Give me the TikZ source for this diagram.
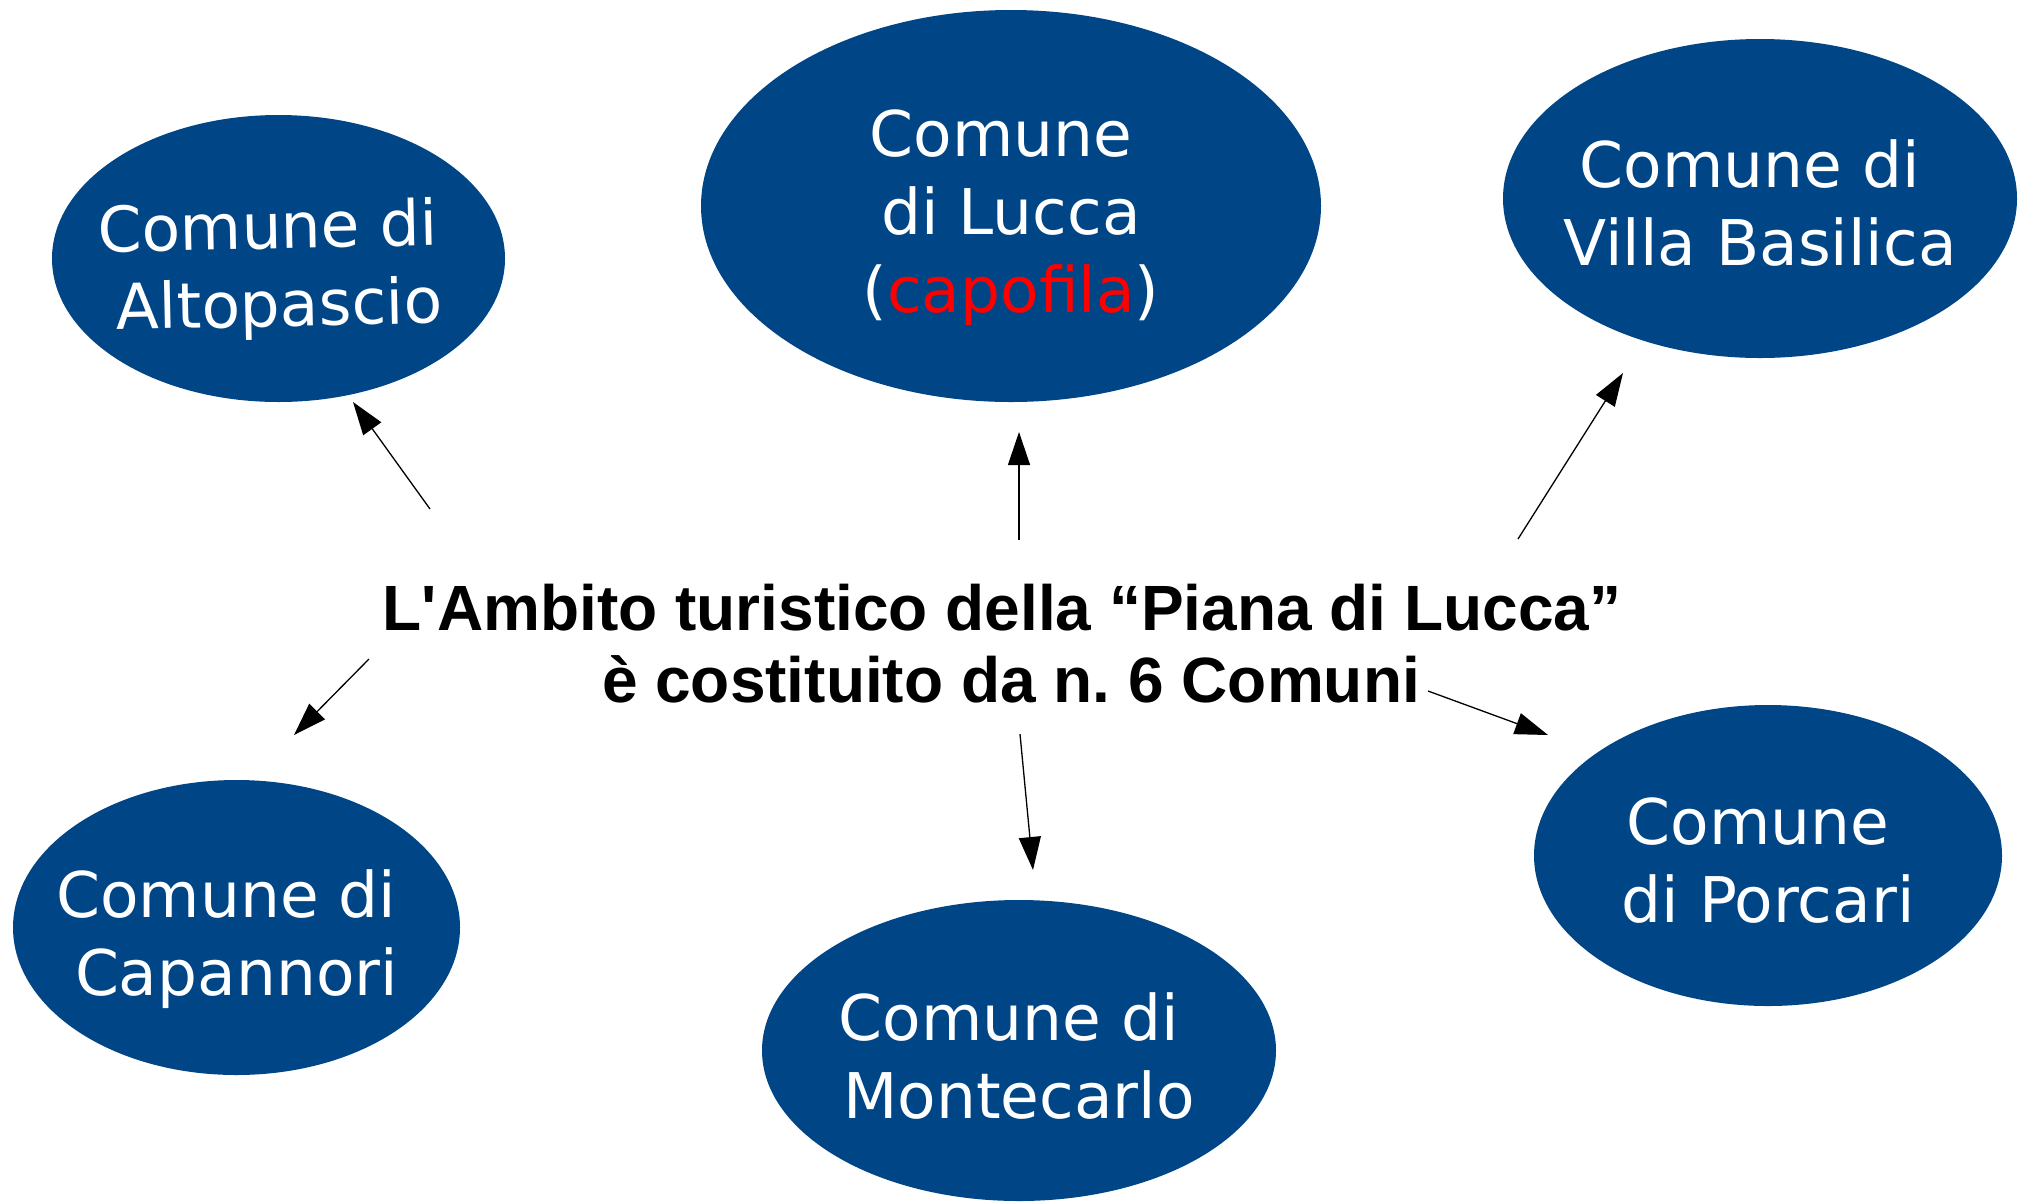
\documentclass[tikz,border=0pt]{standalone}
\usepackage{fontspec}
\setmainfont{DejaVu Sans}
\newfontfamily\titlefont{Liberation Sans}
\usetikzlibrary{shapes.geometric,arrows.meta}
\definecolor{cblue}{HTML}{004586}
\definecolor{cred}{HTML}{FF0000}
\newcommand{\nodesc}[1]{\raisebox{0pt}[\height][0pt]{#1}}
\newcommand{\trsp}{\hspace*{0.318em}}
\frenchspacing
\begin{document}
\begin{tikzpicture}[x=0.5pt,y=-0.5pt,
  comune/.style={ellipse, fill=cblue, draw=none, inner sep=0pt},
  ctext/.style={text=white, align=center, inner sep=0pt, yshift=-2.5pt,
    font=\fontsize{31.5}{39}\selectfont},
  titlestyle/.style={align=center, inner sep=0pt,
    font=\titlefont\bfseries\fontsize{32}{36}\selectfont},
  arr/.style={-{Triangle[length=16.5pt,width=11pt]}, line width=0.65pt}]
\useasboundingbox (0,0) rectangle (2029,1201);

% ellipses
\node[comune, minimum width=226.5pt, minimum height=143.5pt] (alto) at (278.5,258.5) {};
\node[comune, minimum width=310pt, minimum height=196pt] (lucca) at (1011,206) {};
\node[comune, minimum width=257pt, minimum height=159.5pt] (villa) at (1760,198.5) {};
\node[comune, minimum width=223.5pt, minimum height=147.5pt] (capa) at (236.5,927.5) {};
\node[comune, minimum width=257pt, minimum height=150.5pt] (monte) at (1019,1050.5) {};
\node[comune, minimum width=234pt, minimum height=150.5pt] (porc) at (1768,855.5) {};

% texts
\node[ctext, rotate=1.2] (altot) at (alto) {Comune di\trsp\\\nodesc{Altopascio}};
\node[ctext] (luccat) at (lucca) {Comune\trsp\\di Lucca\\\nodesc{(\textcolor{cred}{capofila})}};
\node[ctext] (villat) at (villa) {Comune di\trsp\\Villa Basilica};
\node[ctext] (capat) at (capa) {Comune di\trsp\\\nodesc{Capannori}};
\node[ctext] (montet) at (monte) {Comune di\trsp\\Montecarlo};
\node[ctext] (porct) at (porc) {Comune\trsp\\\nodesc{di Porcari}};

\node[titlestyle] (title) at (1011,644) {L'Ambito turistico della “Piana di Lucca”\hspace*{0.278em}\\è costituito da n. 6 Comuni};

% arrow ends
\coordinate (s1) at (430,509);  \coordinate (e1) at (353,402);
\coordinate (s2) at (1019,540); \coordinate (e2) at (1019,432);
\coordinate (s3) at (1518,539); \coordinate (e3) at (1623,373);
\coordinate (s4) at (369,659);  \coordinate (e4) at (294,735);
\coordinate (s5) at (1020,734); \coordinate (e5) at (1033,870);
\coordinate (s6) at (1428,691); \coordinate (e6) at (1548,735);

\draw[arr] (s1) -- (e1);
\draw[arr] (s2) -- (e2);
\draw[arr] (s3) -- (e3);
\draw[arr] (s4) -- (e4);
\draw[arr] (s5) -- (e5);
\draw[arr] (s6) -- (e6);
\end{tikzpicture}
\end{document}
